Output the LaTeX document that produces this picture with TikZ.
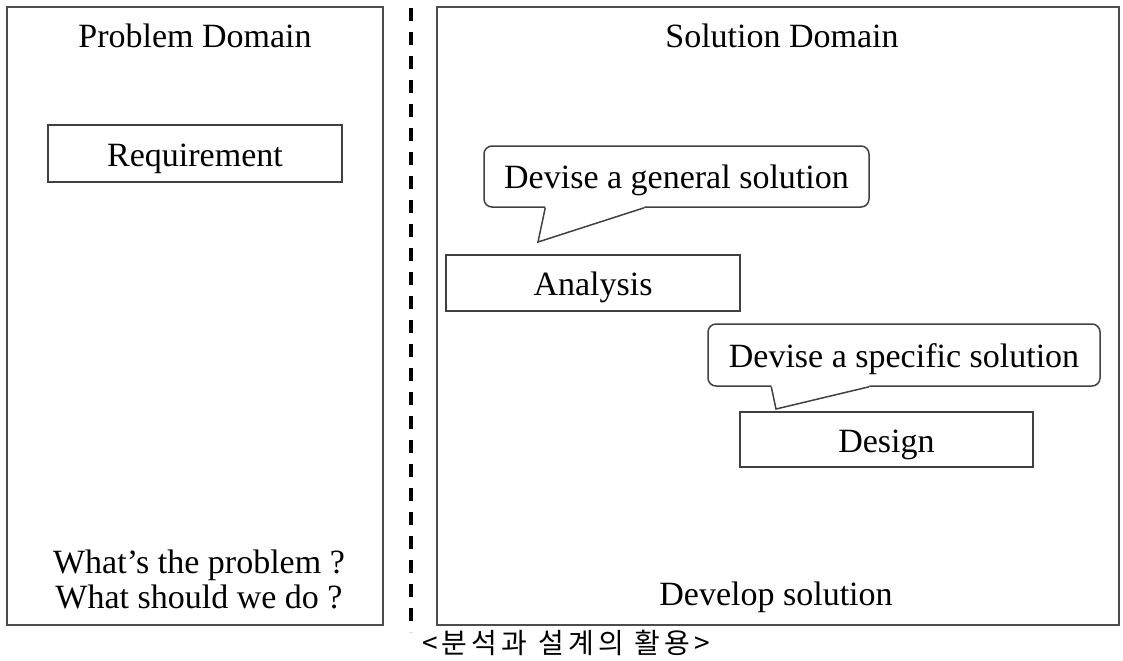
\documentclass[tikz,border=0pt]{standalone}
\usepackage{fontspec}
\setmainfont{Liberation Serif}
\newfontfamily\krfont[LetterSpace=15]{Noto Sans CJK KR}
\usepackage{tikz}
\usetikzlibrary{calc}

\begin{document}
\begin{tikzpicture}[x=0.5pt, y=-0.5pt,
    line width=0.75pt,
    every node/.style={font=\fontsize{17}{17}\selectfont},
    domainbox/.style={draw=black!70, minimum width=#1, minimum height=309pt, inner sep=0pt},
    stagebox/.style={draw=black!75, minimum width=147pt, minimum height=28pt, inner sep=0pt,
        text height=12.5pt, text depth=0pt},
    bubble/.style={draw=black!75, rounded corners=4pt, minimum height=30.5pt, inner sep=0pt,
        text height=12pt, text depth=0pt}]
    \useasboundingbox (0,0) rectangle (1123,660);

    % Domain panels
    \path
    (195, 316) node[domainbox=188pt] (prob) {}
    (778, 316) node[domainbox=341pt] (sol) {}
    ;

    % Separator
    \coordinate (septop) at (411, 8);
    \coordinate (sepbot) at (411, 632);
    \draw[line width=1.6pt, dash pattern=on 6.5pt off 5.5pt] (septop) -- (sepbot);

    % Panel texts
    \path
    (195, 47) node[anchor=base] (probtitle) {Problem Domain}
    (782, 47) node[anchor=base] (soltitle) {Solution Domain}
    (199, 573) node[anchor=base] (probq1) {What's the problem ?}
    (199, 608) node[anchor=base] (probq2) {What should we do ?}
    (776, 605) node[anchor=base] (develop) {Develop solution}
    ;

    % Stages
    \path
    (195, 153.5) node[stagebox, minimum height=28.5pt] (req) {Requirement}
    (593, 283) node[stagebox] (ana) {Analysis}
    (886.5, 439.5) node[stagebox, minimum width=146.5pt, minimum height=27.5pt] (des) {Design}
    ;

    % Speech bubbles
    \path
    (676.5, 176.5) node[bubble, minimum width=192.5pt] (gen) {Devise a general solution}
    (904, 355) node[bubble, minimum width=196pt, minimum height=31pt] (spec) {Devise a specific solution}
    ;
    \coordinate (gentip) at (538, 242);
    \coordinate (spectip) at (776, 409);

    \coordinate (gena) at ($(gen.south west)+(62,0)$);
    \coordinate (genb) at ($(gen.south west)+(161,0)$);
    \fill[white] ($(gena)+(0,-2)$) -- (gena) -- (gentip) -- (genb) -- ($(genb)+(0,-2)$) -- cycle;
    \draw[black!75] (gena) -- (gentip) -- (genb);

    \coordinate (speca) at ($(spec.south west)+(64,0)$);
    \coordinate (specb) at ($(spec.south west)+(162,0)$);
    \fill[white] ($(speca)+(0,-2)$) -- (speca) -- (spectip) -- (specb) -- ($(specb)+(0,-2)$) -- cycle;
    \draw[black!75] (speca) -- (spectip) -- (specb);

    % Caption
    \node[anchor=base, font=\krfont\fontsize{14}{16}\selectfont] (caption) at (566, 653) {<분석과 설계의 활용>};

\end{tikzpicture}
\end{document}
